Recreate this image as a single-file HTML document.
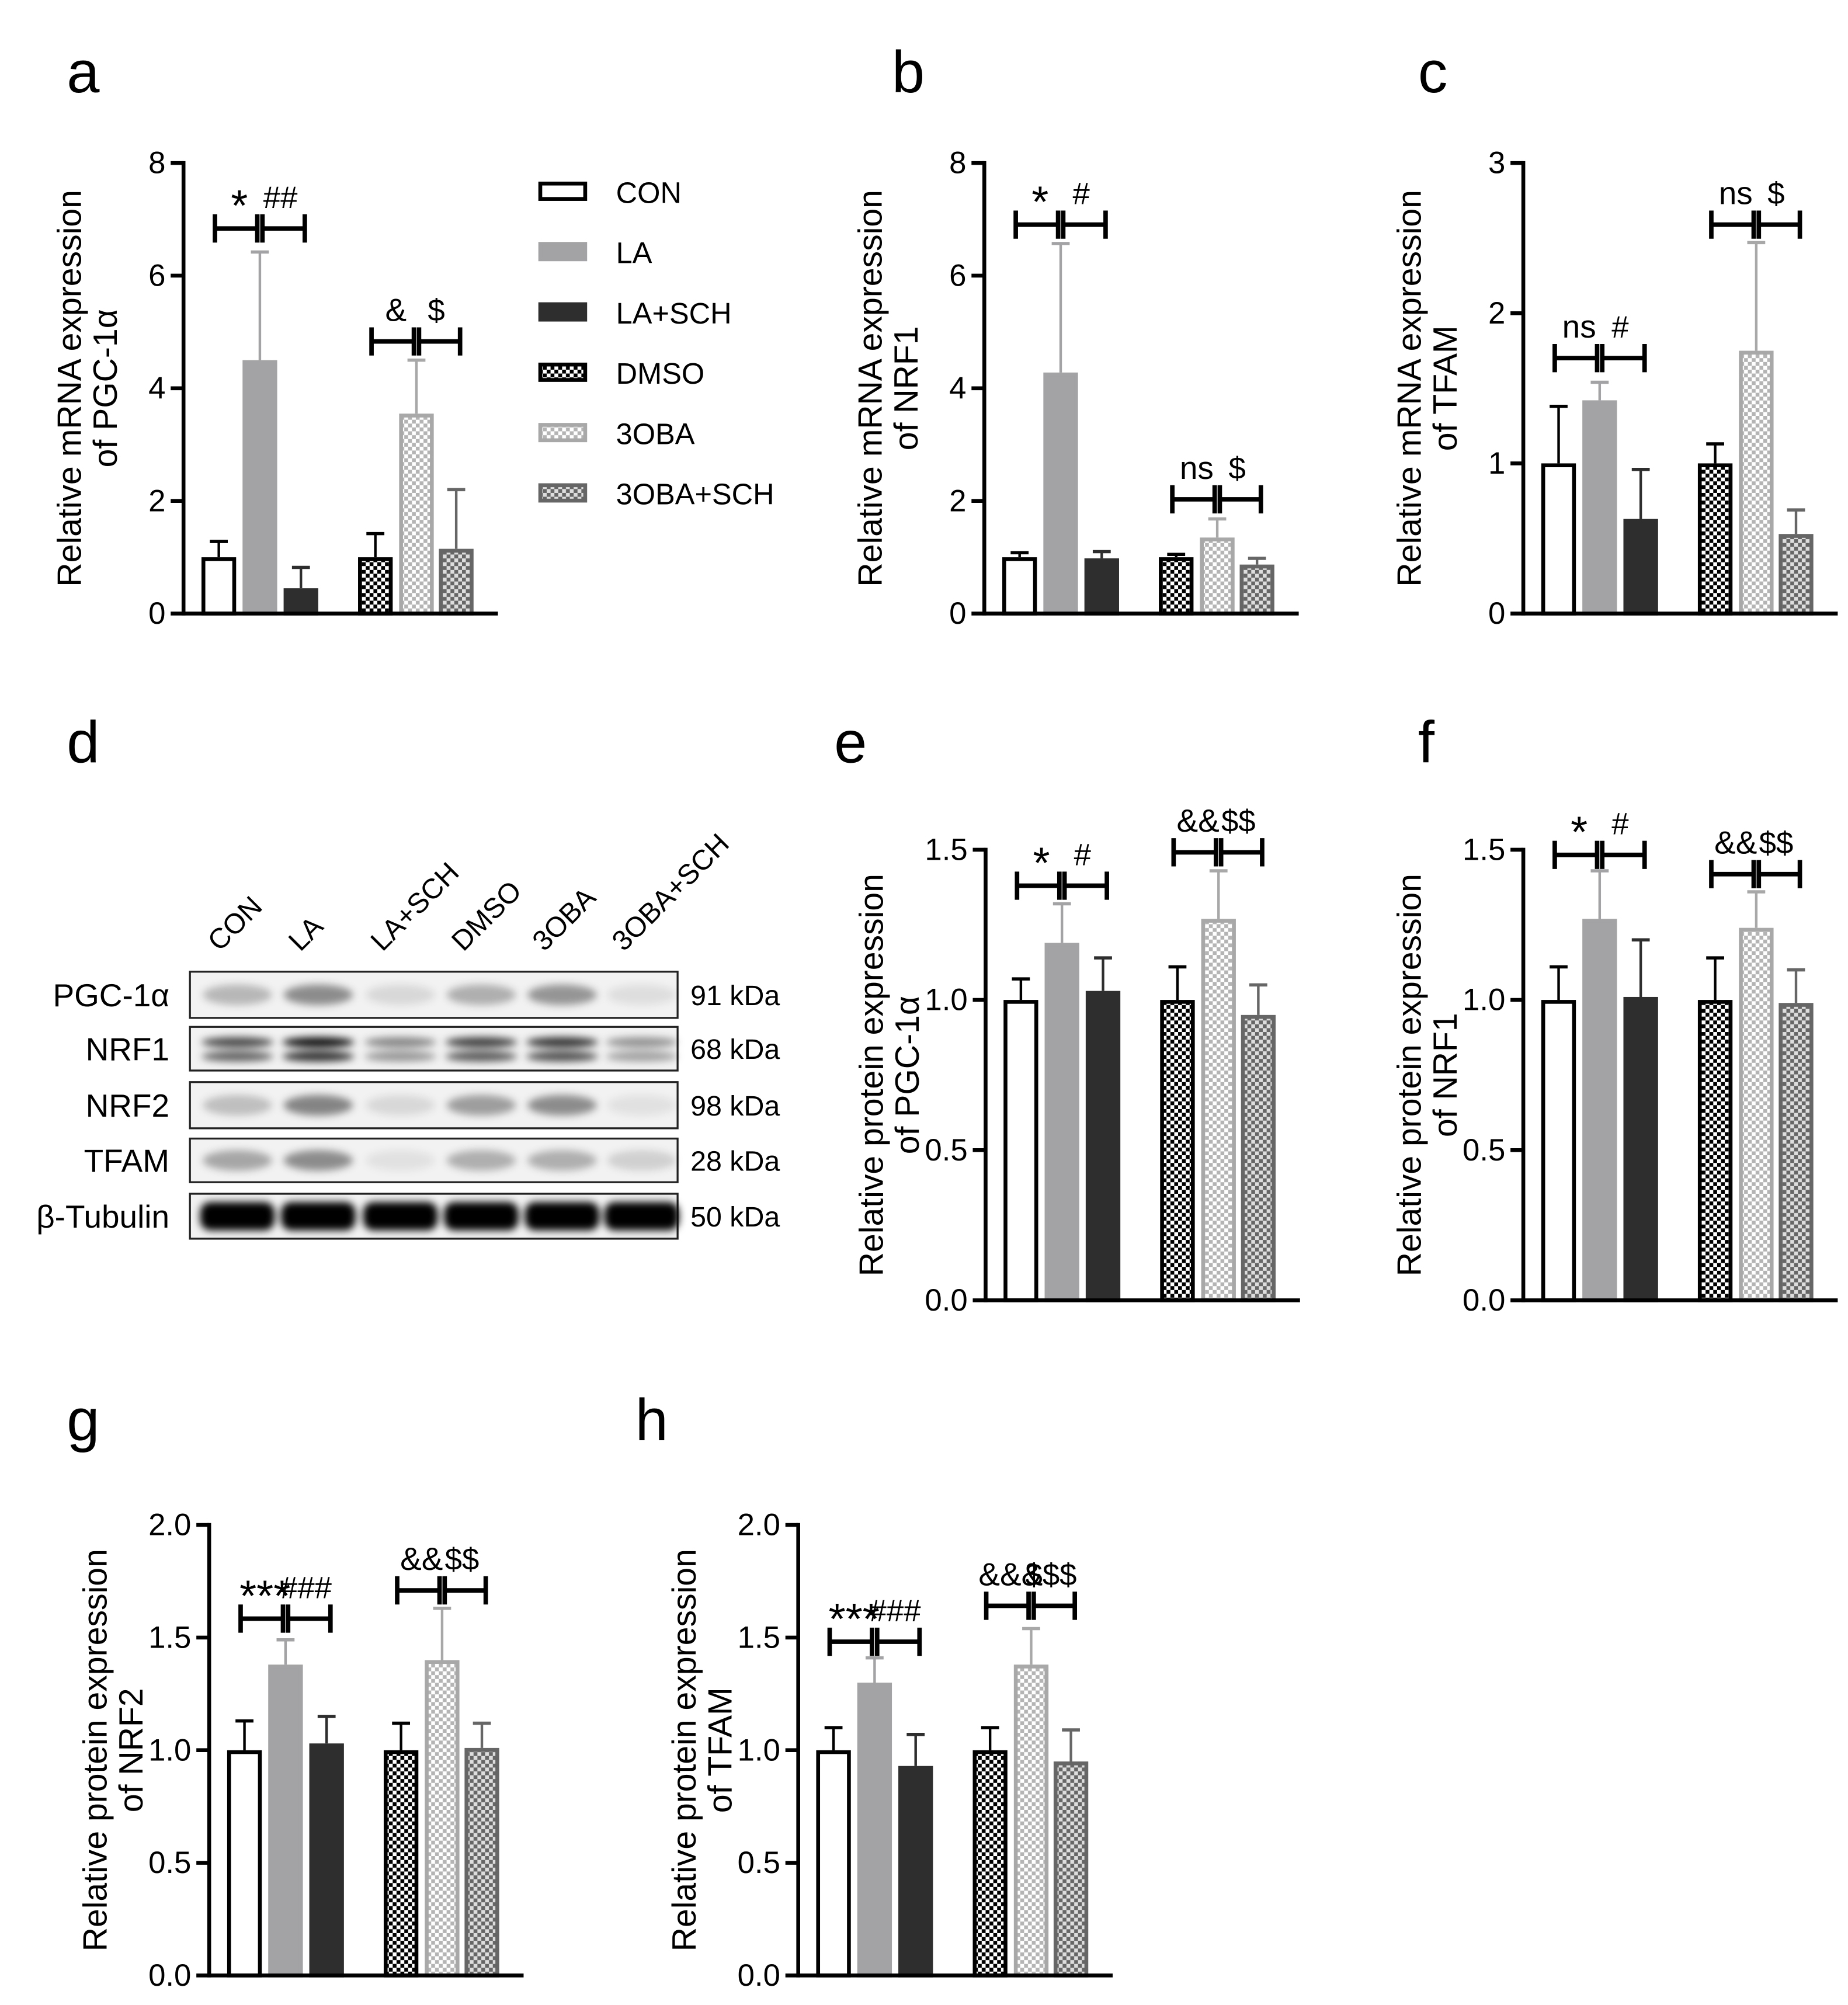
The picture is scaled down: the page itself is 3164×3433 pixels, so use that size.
<!DOCTYPE html>
<html><head><meta charset="utf-8"><style>
html,body{margin:0;padding:0;background:#fff}
svg{display:block;font-family:"Liberation Sans",Arial,sans-serif}
</style></head><body>
<svg id="fig" width="3164" height="3433" viewBox="0 0 1440 1562" preserveAspectRatio="none" xmlns="http://www.w3.org/2000/svg">
<defs>
<pattern id="pDMSO" width="6" height="6" patternUnits="userSpaceOnUse"><rect width="6" height="6" fill="#fff"/><rect width="3" height="3" fill="#000"/><rect x="3" y="3" width="3" height="3" fill="#000"/></pattern>
<pattern id="p3OBA" width="6" height="6" patternUnits="userSpaceOnUse"><rect width="6" height="6" fill="#fff"/><rect width="3" height="3" fill="#b4b4b4"/><rect x="3" y="3" width="3" height="3" fill="#b4b4b4"/></pattern>
<pattern id="p3SCH" width="6" height="6" patternUnits="userSpaceOnUse"><rect width="6" height="6" fill="#ddd"/><rect width="3" height="3" fill="#666"/><rect x="3" y="3" width="3" height="3" fill="#666"/></pattern>
<filter id="blur" x="-20%" y="-50%" width="140%" height="200%"><feGaussianBlur stdDeviation="3"/></filter>
</defs>
<g id="root"></g>
</svg>
<script>
// ---- data ----
const groups = ["CON","LA","LA+SCH","DMSO","3OBA","3OBA+SCH"];
const aMean = [1.0,4.5,0.45,1.0,3.55,1.15];
const aTop  = [1.28,6.42,0.82,1.42,4.5,2.2];
const bMean = [1.0,4.28,0.98,1.0,1.35,0.87];
const bTop  = [1.08,6.57,1.1,1.05,1.68,0.98];
const cMean = [1.0,1.42,0.63,1.0,1.75,0.53];
const cTop  = [1.38,1.54,0.96,1.13,2.47,0.69];
const eMean = [1.0,1.19,1.03,1.0,1.27,0.95];
const eTop  = [1.07,1.32,1.14,1.11,1.43,1.05];
const fMean = [1.0,1.27,1.01,1.0,1.24,0.99];
const fTop  = [1.11,1.43,1.2,1.14,1.36,1.10];
const gMean = [1.0,1.38,1.03,1.0,1.40,1.01];
const gTop  = [1.13,1.49,1.15,1.12,1.63,1.12];
const hMean = [1.0,1.30,0.93,1.0,1.38,0.95];
const hTop  = [1.10,1.41,1.07,1.10,1.54,1.09];
const ticks8 = ["0","2","4","6","8"];
const ticks3 = ["0","1","2","3"];
const ticks15 = ["0.0","0.5","1.0","1.5"];
const ticks20 = ["0.0","0.5","1.0","1.5","2.0"];

const NS="http://www.w3.org/2000/svg";
const root=document.getElementById('root');
function mk(tag,attrs,parent){const e=document.createElementNS(NS,tag);for(const k in attrs)e.setAttribute(k,attrs[k]);(parent||root).appendChild(e);return e;}
const fills=["#fff","#a3a3a5","#2e2e2e","url(#pDMSO)","url(#p3OBA)","url(#p3SCH)"];
const strokes=["#000","#a3a3a5","#2e2e2e","#000","#a8a8a8","#666"];
const offs=[14,46,78,136,168,199];
const BW=27;

function chart(name,ax,y0,ytop,ymax,tickL,mean,top,title1,title2,sig){
  const g=mk('g',{});
  
  
  const sy=v=>y0-(v/ymax)*(y0-ytop);
  mean.forEach((m,i)=>{
    const x=ax+offs[i];
    const eb=mk('line',{x1:x+BW/2,x2:x+BW/2,y1:sy(m),y2:sy(top[i]),stroke:strokes[i],'stroke-width':2},g);
    
    
    mk('line',{x1:x+BW/2-7,x2:x+BW/2+7,y1:sy(top[i]),y2:sy(top[i]),stroke:strokes[i],'stroke-width':2.5},g);
    const r=mk('rect',{x:x+1.5,y:sy(m)+1.5,width:BW-3,height:Math.max(0,y0-sy(m)-1.5),fill:fills[i],stroke:strokes[i],'stroke-width':3},g);
    
    
  });
  mk('line',{x1:ax,x2:ax,y1:ytop-1.5,y2:y0+1.5,stroke:'#000','stroke-width':3},g);
  mk('line',{x1:ax,x2:ax+245,y1:y0,y2:y0,stroke:'#000','stroke-width':3},g);
  const n=tickL.length;
  tickL.forEach((t,i)=>{
    const v=ymax*i/(n-1), y=sy(v);
    mk('line',{x1:ax-10,x2:ax,y1:y,y2:y,stroke:'#000','stroke-width':3},g);
    const tx=mk('text',{x:ax-14,y:y+8,'font-size':24,'text-anchor':'end'},g);tx.textContent=t;
    
    
  });
  const cy=(y0+ytop)/2;
  const t=mk('text',{transform:`translate(${ax-80},${cy}) rotate(-90)`,'font-size':26,'text-anchor':'middle'},g);
  
  
  const s1=mk('tspan',{x:0,dy:0},t);s1.textContent=title1;
  const s2=mk('tspan',{x:0,dy:28},t);s2.textContent=title2;
  sig.forEach(s=>{
    const base=s.grp*3;
    const c=[0,1,2].map(k=>ax+offs[base+k]+BW/2);
    const y=s.y;
    [[c[0]-3,c[1]-2],[c[1]+2,c[2]+3]].forEach(([x1,x2])=>{
      mk('line',{x1:x1,x2:x2,y1:y,y2:y,stroke:'#000','stroke-width':3.5},g);
      mk('line',{x1:x1,x2:x1,y1:y-11,y2:y+11,stroke:'#000','stroke-width':3.5},g);
      mk('line',{x1:x2,x2:x2,y1:y-11,y2:y+11,stroke:'#000','stroke-width':3.5},g);
    });
    const big=s.l1.indexOf('*')>=0;
    const l1=mk('text',{x:(c[0]+c[1])/2,y:y-(big?6:16),'font-size':big?34:25,'text-anchor':'middle'},g);l1.textContent=s.l1;
    
    
    const l2=mk('text',{x:(c[1]+c[2])/2,y:y-16,'font-size':24,'text-anchor':'middle'},g);l2.textContent=s.l2;
    
    
  });
}
chart('chart-a',143,478,127,8,ticks8,aMean,aTop,'Relative mRNA expression','of PGC-1α',[{grp:0,y:178,l1:'*',l2:'##'},{grp:1,y:266,l1:'&',l2:'$'}]);
chart('chart-b',767,478,127,8,ticks8,bMean,bTop,'Relative mRNA expression','of NRF1',[{grp:0,y:175,l1:'*',l2:'#'},{grp:1,y:389,l1:'ns',l2:'$'}]);
chart('chart-c',1187,478,127,3,ticks3,cMean,cTop,'Relative mRNA expression','of TFAM',[{grp:0,y:279,l1:'ns',l2:'#'},{grp:1,y:175,l1:'ns',l2:'$'}]);
chart('chart-e',768,1013,662,1.5,ticks15,eMean,eTop,'Relative protein expression','of PGC-1α',[{grp:0,y:690,l1:'*',l2:'#'},{grp:1,y:664,l1:'&&',l2:'$$'}]);
chart('chart-f',1187,1013,662,1.5,ticks15,fMean,fTop,'Relative protein expression','of NRF1',[{grp:0,y:666,l1:'*',l2:'#'},{grp:1,y:681,l1:'&&',l2:'$$'}]);
chart('chart-g',163,1539,1188,2,ticks20,gMean,gTop,'Relative protein expression','of NRF2',[{grp:0,y:1261,l1:'***',l2:'###'},{grp:1,y:1239,l1:'&&',l2:'$$'}]);
chart('chart-h',622,1539,1188,2,ticks20,hMean,hTop,'Relative protein expression','of TFAM',[{grp:0,y:1279,l1:'***',l2:'###'},{grp:1,y:1251,l1:'&&&',l2:'$$$'}]);

[['a',52,72],['b',695,72],['c',1105,72],['d',52,594],['e',650,594],['f',1105,594],['g',52,1122],['h',495,1122]].forEach(p=>{
  const t=mk('text',{x:p[1],y:p[2],'font-size':46},root);t.textContent=p[0];
  
  
});
const legY=[149,196,243,290,337,384];
groups.forEach((gname,i)=>{
  const r=mk('rect',{x:421,y:legY[i]-6,width:35,height:12,fill:fills[i],stroke:strokes[i],'stroke-width':3},root);
  
  
  const t=mk('text',{x:480,y:legY[i]+9,'font-size':23},root);t.textContent=gname;
  
  
});
const rowNames=["PGC-1α","NRF1","NRF2","TFAM","β-Tubulin"];
const rowKda=["91 kDa","68 kDa","98 kDa","28 kDa","50 kDa"];
const rowY=[757,800,843,887,930];
const rowH=[36,34,36,34,35];
const laneX=[185,248,312,375,438,500];
const intens=[[0.35,0.6,0.15,0.4,0.55,0.12],[0.7,0.95,0.45,0.75,0.8,0.4],[0.3,0.65,0.15,0.5,0.6,0.1],[0.45,0.6,0.1,0.4,0.4,0.2],[1,1,1,1,1,1]];
const blot=mk('g',{},root);


rowNames.forEach((nm,r)=>{
  mk('rect',{x:148,y:rowY[r],width:380,height:rowH[r],fill:'#f2f2f2',stroke:'#222','stroke-width':1.5},blot);
  const bg=mk('g',{filter:'url(#blur)'},blot);
  laneX.forEach((lx,l)=>{
    const v=intens[r][l];const cy=rowY[r]+rowH[r]/2;
    if(r===4){mk('rect',{x:lx-29,y:cy-11,width:58,height:22,rx:8,fill:'#000'},bg);}
    else if(r===1){mk('ellipse',{cx:lx,cy:cy-5,rx:28,ry:4,fill:'#000','fill-opacity':v},bg);mk('ellipse',{cx:lx,cy:cy+6,rx:28,ry:4,fill:'#000','fill-opacity':v*0.85},bg);}
    else {mk('ellipse',{cx:lx,cy:cy,rx:27,ry:8,fill:'#000','fill-opacity':v*0.7},bg);}
  });
  const t=mk('text',{x:132,y:rowY[r]+rowH[r]/2+9,'font-size':25,'text-anchor':'end'},blot);t.textContent=nm;
  
  
  const k=mk('text',{x:538,y:rowY[r]+rowH[r]/2+8,'font-size':22},blot);k.textContent=rowKda[r];
  
  
});
groups.forEach((gname,l)=>{
  const t=mk('text',{transform:`translate(${laneX[l]-14},${742}) rotate(-45)`,'font-size':22},blot);t.textContent=gname;
  
  
});
</script>
</body></html>
